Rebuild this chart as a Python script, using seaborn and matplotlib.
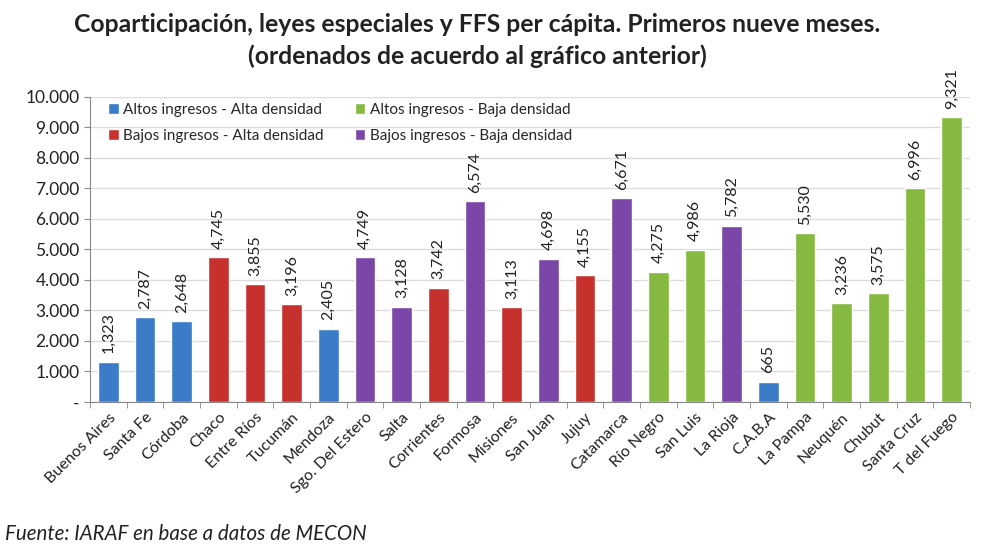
import numpy as np
import pandas as pd
import seaborn as sns
import matplotlib.pyplot as plt
from matplotlib.patches import Patch
from matplotlib.ticker import FixedLocator

provincias = ["Buenos Aires", "Santa Fe", "Córdoba", "Chaco", "Entre Ríos", "Tucumán",
              "Mendoza", "Sgo. Del Estero", "Salta", "Corrientes", "Formosa", "Misiones",
              "San Juan", "Jujuy", "Catamarca", "Río Negro", "San Luis", "La Rioja",
              "C.A.B.A", "La Pampa", "Neuquén", "Chubut", "Santa Cruz", "T del Fuego"]
valores = [1323, 2787, 2648, 4745, 3855, 3196, 2405, 4749, 3128, 3742, 6574, 3113,
           4698, 4155, 6671, 4275, 4986, 5782, 665, 5530, 3236, 3575, 6996, 9321]
grupo = ["AA", "AA", "AA", "BA", "BA", "BA", "AA", "BB", "BB", "BA", "BB", "BA",
         "BB", "BA", "BB", "AB", "AB", "BB", "AA", "AB", "AB", "AB", "AB", "AB"]

grupos = ["AA", "BA", "AB", "BB"]
nombres = {"AA": "Altos ingresos - Alta densidad",
           "BA": "Bajos ingresos - Alta densidad",
           "AB": "Altos ingresos - Baja densidad",
           "BB": "Bajos ingresos - Baja densidad"}
colores = {"AA": "#3b7cc8", "BA": "#c6312d", "AB": "#86b940", "BB": "#7a46a8"}

df = pd.DataFrame({"provincia": provincias, "valor": valores, "grupo": grupo})

sns.set_style("white")
plt.rcParams['font.family'] = ['Lato', 'DejaVu Sans']

fig = plt.figure(figsize=(10, 5.51), dpi=100)
ax = fig.add_axes([0.09, 0.2704, 0.88, 0.554])

sns.barplot(data=df, x="provincia", y="valor", hue="grupo", hue_order=grupos,
            palette=colores, dodge=False, width=0.56, saturation=1, legend=False,
            ax=ax, order=provincias)

for c in ax.containers:
    ax.bar_label(c, fmt=lambda v: f"{v:,.0f}", rotation=90, padding=6,
                 fontsize=11.5, color="#222222")

ax.set_ylim(0, 10000)
ax.set_xlim(-0.5, len(provincias) - 0.5)
ax.set_yticks(np.arange(0, 10001, 1000))
ax.set_yticklabels(["-"] + [f"{v:,}".replace(",", ".") for v in range(1000, 10001, 1000)],
                   fontsize=12.5, color="#222222")
ax.yaxis.grid(True, color="#dcdcdc", linewidth=1)
ax.set_axisbelow(True)
ax.set_xlabel("")
ax.set_ylabel("")
ax.set_xticks(range(len(provincias)))
ax.set_xticklabels(provincias, rotation=45, ha="right", rotation_mode="anchor",
                   fontsize=11.5, color="#222222")
ax.tick_params(axis="x", length=0, pad=6)
ax.tick_params(axis="y", length=4, color="#888888", left=True)
ax.xaxis.set_minor_locator(FixedLocator(np.arange(-0.5, len(provincias), 1)))
ax.tick_params(axis="x", which="minor", length=4, color="#888888", bottom=True)
for s in ["top", "right"]:
    ax.spines[s].set_visible(False)
for s in ["left", "bottom"]:
    ax.spines[s].set_color("#888888")

handles = [Patch(facecolor=colores[g], label=nombres[g]) for g in grupos]
ax.legend(handles=handles, ncol=2, loc="upper left", bbox_to_anchor=(0.005, 1.025),
          frameon=False, fontsize=11, handlelength=0.7, handleheight=0.7,
          handletextpad=0.3, columnspacing=2.0, labelspacing=0.8)

fig.text(0.477, 0.955, "Coparticipación, leyes especiales y FFS per cápita. Primeros nueve meses.",
         ha="center", va="center", fontsize=17.8, fontweight="bold", color="#222222")
fig.text(0.477, 0.898, "(ordenados de acuerdo al gráfico anterior)",
         ha="center", va="center", fontsize=17.8, fontweight="bold", color="#222222")
fig.text(0.005, 0.03, "Fuente: IARAF en base a datos de MECON", ha="left", va="center",
         fontsize=14.8, style="italic", color="#222222")

fig.savefig("out.png", dpi=100)
